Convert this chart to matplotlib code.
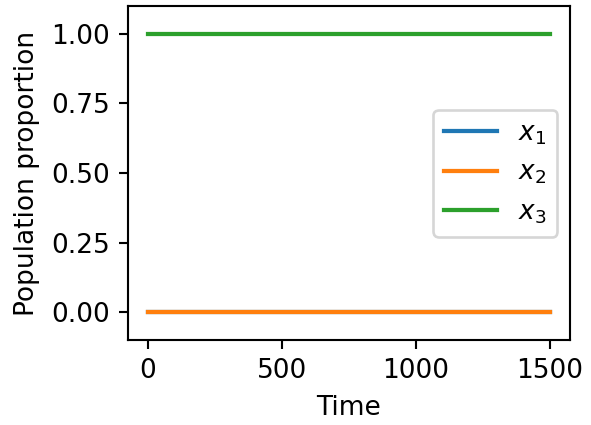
import matplotlib
matplotlib.use("Agg")
import matplotlib.pyplot as plt

# values: proportions stay constant over time
time = [0, 250, 500, 750, 1000, 1250, 1500]
x1 = [0.0, 0.0, 0.0, 0.0, 0.0, 0.0, 0.0]
x2 = [0.0, 0.0, 0.0, 0.0, 0.0, 0.0, 0.0]
x3 = [1.0, 1.0, 1.0, 1.0, 1.0, 1.0, 1.0]
labels = [r"$x_1$", r"$x_2$", r"$x_3$"]
yticks = [0.0, 0.25, 0.5, 0.75, 1.0]

dpi = 190
fig = plt.figure(figsize=(591 / dpi, 425 / dpi), dpi=dpi)
ax = fig.add_axes([128 / 591, 85 / 425, 442 / 591, 334 / 425])

for series, lab in zip([x1, x2, x3], labels):
    ax.plot(time, series, linewidth=1.6, label=lab)

ax.set_ylim(-0.1, 1.1)
ax.set_yticks(yticks)
ax.set_yticklabels([f"{v:.2f}" for v in yticks])
ax.set_xticks([0, 500, 1000, 1500])
ax.set_xlabel("Time")
ax.set_ylabel("Population proportion")
ax.legend(loc="center right")

fig.savefig("out.png", dpi=dpi)
